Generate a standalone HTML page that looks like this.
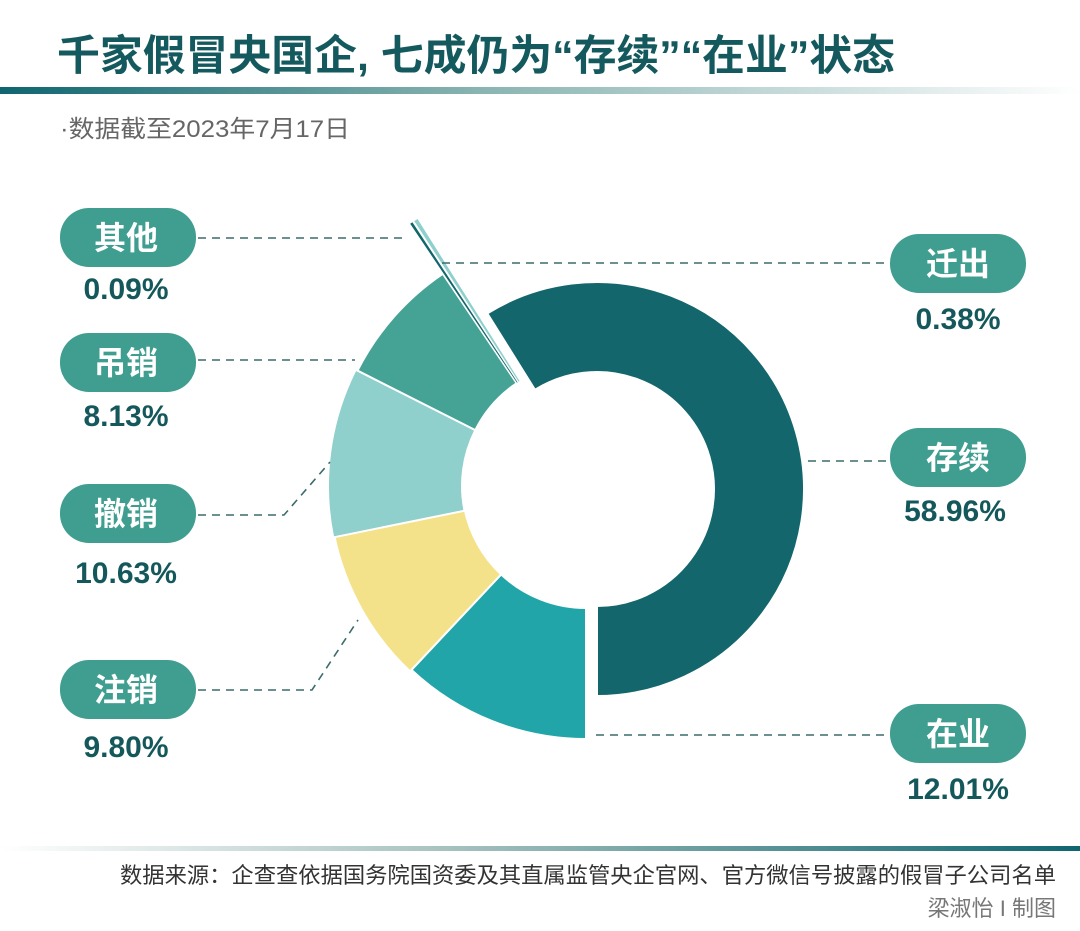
<!DOCTYPE html>
<html><head><meta charset="utf-8"><style>
body{margin:0;background:#fff;}
svg text{font-family:"Liberation Sans","Noto Sans CJK SC",sans-serif;}
</style></head><body>
<svg width="1080" height="926" viewBox="0 0 1080 926" xmlns="http://www.w3.org/2000/svg">
<defs>
<linearGradient id="g1" x1="0" x2="1"><stop offset="0" stop-color="#0f6670"/><stop offset="0.45" stop-color="#8ab5b2"/><stop offset="1" stop-color="#ffffff"/></linearGradient>
<linearGradient id="g2" x1="0" x2="1"><stop offset="0" stop-color="#ffffff"/><stop offset="0.4" stop-color="#a9c4c1"/><stop offset="1" stop-color="#0f6670"/></linearGradient>
</defs>
<text x="57" y="70" font-size="42" font-weight="bold" fill="#14595d" textLength="838" lengthAdjust="spacingAndGlyphs">千家假冒央国企, 七成仍为“存续”“在业”状态</text>
<rect x="0" y="87" width="1080" height="7" fill="url(#g1)"/>
<text x="60" y="137" font-size="24" fill="#666" textLength="290" lengthAdjust="spacingAndGlyphs">·数据截至2023年7月17日</text>

<g stroke="#fff" stroke-width="2" id="donut"></g>

<g stroke="#3c6b6c" stroke-width="1.6" stroke-dasharray="8,6" fill="none">
<path d="M198 238 H405"/>
<path d="M442 263 H890"/>
<path d="M198 360 H355"/>
<path d="M198 515 H284 L330 462"/>
<path d="M198 690 H312 L358 620"/>
<path d="M808 461 H890"/>
<path d="M596 735 H890"/>
</g>

<g fill="#3f9e8f">
<rect x="60" y="208" width="136" height="59" rx="29"/>
<rect x="60" y="333" width="136" height="59" rx="29"/>
<rect x="60" y="484" width="136" height="59" rx="29"/>
<rect x="60" y="660" width="136" height="59" rx="29"/>
<rect x="890" y="234" width="136" height="59" rx="29"/>
<rect x="890" y="428" width="136" height="59" rx="29"/>
<rect x="890" y="704" width="136" height="59" rx="29"/>
</g>
<g fill="#fff" font-size="32" font-weight="bold" text-anchor="middle">
<text x="126" y="249">其他</text>
<text x="126" y="374">吊销</text>
<text x="126" y="525">撤销</text>
<text x="126" y="701">注销</text>
<text x="958" y="275">迁出</text>
<text x="958" y="469">存续</text>
<text x="958" y="745">在业</text>
</g>
<g fill="#15585c" font-size="30" font-weight="bold" text-anchor="middle">
<text x="126" y="299">0.09%</text>
<text x="126" y="426">8.13%</text>
<text x="126" y="583">10.63%</text>
<text x="126" y="757">9.80%</text>
<text x="958" y="329">0.38%</text>
<text x="955" y="521">58.96%</text>
<text x="958" y="799">12.01%</text>
</g>

<rect x="0" y="846" width="1080" height="5" fill="url(#g2)"/>
<text x="1056" y="883" font-size="22" fill="#333" text-anchor="end" textLength="936" lengthAdjust="spacingAndGlyphs">数据来源：企查查依据国务院国资委及其直属监管央企官网、官方微信号披露的假冒子公司名单</text>
<text x="1056" y="916" font-size="22" fill="#777" text-anchor="end">梁淑怡 I 制图</text>
</svg>
<script>
(function(){
var g=document.getElementById('donut');
function pt(cx,cy,r,a){var t=a*Math.PI/180;return [cx+r*Math.sin(t),cy-r*Math.cos(t)];}
function seg(cx,cy,r,R,a0,a1,col,sw){
 var p1=pt(cx,cy,R,a0),p2=pt(cx,cy,R,a1),p3=pt(cx,cy,r,a1),p4=pt(cx,cy,r,a0);
 var l=(a1-a0)>180?1:0;
 var d='M'+p1+' A'+R+' '+R+' 0 '+l+' 1 '+p2+' L'+p3+' A'+r+' '+r+' 0 '+l+' 0 '+p4+' Z';
 var e=document.createElementNS('http://www.w3.org/2000/svg','path');
 e.setAttribute('d',d);e.setAttribute('fill',col);
 if(sw!==undefined)e.setAttribute('stroke-width',sw);
 g.appendChild(e);
}
seg(597,489,117,207,-32,180,'#13666b');
seg(586,484,124,255,180,223.2,'#22a5a8');
seg(586,484,124,257,223.2,258.5,'#f4e28a');
seg(586,486,124,258,258.5,296.8,'#8fcfcc');
seg(586,486,124,256,296.8,326,'#45a396');
seg(586,486,124,316,326.1,326.7,'#13666b',0.6);
seg(586,486,124,316,327.0,327.8,'#8fcfcc',0.6);
})();
</script>
</body></html>
